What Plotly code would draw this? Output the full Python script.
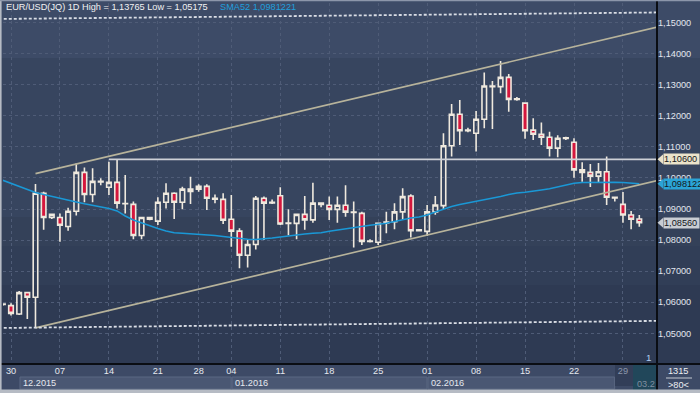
import plotly.graph_objects as go

# ---------------- data ----------------
dates = [
    "2015-11-29", "2015-11-30", "2015-12-01", "2015-12-02", "2015-12-03", "2015-12-04",
    "2015-12-06", "2015-12-07", "2015-12-08", "2015-12-09", "2015-12-10", "2015-12-11",
    "2015-12-13", "2015-12-14", "2015-12-15", "2015-12-16", "2015-12-17", "2015-12-18",
    "2015-12-20", "2015-12-21", "2015-12-22", "2015-12-23", "2015-12-24",
    "2015-12-27", "2015-12-28", "2015-12-29", "2015-12-30", "2015-12-31",
    "2016-01-04", "2016-01-05", "2016-01-06", "2016-01-07", "2016-01-08",
    "2016-01-10", "2016-01-11", "2016-01-12", "2016-01-13", "2016-01-14", "2016-01-15",
    "2016-01-17", "2016-01-18", "2016-01-19", "2016-01-20", "2016-01-21", "2016-01-22",
    "2016-01-24", "2016-01-25", "2016-01-26", "2016-01-27", "2016-01-28", "2016-01-29",
    "2016-01-31", "2016-02-01", "2016-02-02", "2016-02-03", "2016-02-04", "2016-02-05",
    "2016-02-07", "2016-02-08", "2016-02-09", "2016-02-10", "2016-02-11", "2016-02-12",
    "2016-02-14", "2016-02-15", "2016-02-16", "2016-02-17", "2016-02-18", "2016-02-19",
    "2016-02-21", "2016-02-22", "2016-02-23", "2016-02-24", "2016-02-25", "2016-02-26",
    "2016-02-28", "2016-02-29", "2016-03-01", "2016-03-02",
]
opens = [
    1.0593, 1.0589, 1.0562, 1.0631, 1.0616, 1.0951,
    1.0873, 1.0873, 1.0844, 1.0893, 1.1018, 1.0947,
    1.0987, 1.0970, 1.0986, 1.0918, 1.0915, 1.0815,
    1.0873, 1.0861, 1.0922, 1.0951, 1.0922,
    1.0964, 1.0964, 1.0973, 1.0935, 1.0931,
    1.0867, 1.0829, 1.0751, 1.0786, 1.0935,
    1.0922, 1.0943, 1.0855, 1.0854, 1.0883, 1.0865,
    1.0919, 1.0912, 1.0899, 1.0912, 1.0890, 1.0886,
    1.0797, 1.0793, 1.0855, 1.0859, 1.0891, 1.0942,
    1.0830, 1.0828, 1.0891, 1.0911, 1.1104, 1.1205,
    1.1152, 1.1144, 1.1189, 1.1296, 1.1294, 1.1324,
    1.1253, 1.1241, 1.1154, 1.1141, 1.1131, 1.1096,
    1.1127, 1.1115, 1.1026, 1.1018, 1.1006, 1.1020,
    1.0936, 1.0915, 1.0881, 1.0868,
]
highs = [
    1.0597, 1.0597, 1.0636, 1.0634, 1.0981, 1.0956,
    1.0885, 1.0886, 1.0904, 1.1047, 1.1034, 1.1031,
    1.0999, 1.1052, 1.1058, 1.1010, 1.0924, 1.0875,
    1.0874, 1.0938, 1.0983, 1.0954, 1.0972,
    1.1004, 1.0980, 1.0980, 1.0947, 1.0951,
    1.0945, 1.0838, 1.0800, 1.0942, 1.0940,
    1.0931, 1.0970, 1.0899, 1.0884, 1.0942, 1.0985,
    1.0919, 1.0940, 1.0940, 1.0977, 1.0924, 1.0891,
    1.0803, 1.0856, 1.0891, 1.0919, 1.0967, 1.0948,
    1.0835, 1.0913, 1.0942, 1.1144, 1.1238, 1.1251,
    1.1162, 1.1216, 1.1340, 1.1312, 1.13765, 1.1335,
    1.1261, 1.1242, 1.1192, 1.1179, 1.1149, 1.1138,
    1.1133, 1.1128, 1.1051, 1.1045, 1.1048, 1.1069,
    1.0940, 1.0955, 1.0894, 1.0881,
]
lows = [
    1.0589, 1.0557, 1.0559, 1.0546, 1.05175, 1.0833,
    1.0868, 1.0795, 1.0830, 1.0879, 1.0922, 1.0922,
    1.0977, 1.0945, 1.0902, 1.0886, 1.0803, 1.0803,
    1.0864, 1.0849, 1.0902, 1.0868, 1.0899,
    1.0916, 1.0956, 1.0897, 1.0919, 1.0852,
    1.0779, 1.0709, 1.0712, 1.0770, 1.0800,
    1.0916, 1.0849, 1.0816, 1.0803, 1.0833, 1.0856,
    1.0906, 1.0865, 1.0856, 1.0875, 1.0776, 1.0784,
    1.0792, 1.0784, 1.0822, 1.0835, 1.0865, 1.0808,
    1.0828, 1.0813, 1.0882, 1.0900, 1.1069, 1.1106,
    1.1147, 1.1085, 1.1160, 1.1158, 1.1273, 1.1213,
    1.1249, 1.1126, 1.1122, 1.1106, 1.1069, 1.1067,
    1.1122, 1.1001, 1.0988, 1.0971, 1.0987, 1.0913,
    1.0924, 1.0856, 1.0835, 1.0843,
]
closes = [
    1.0594, 1.0564, 1.0631, 1.0616, 1.0951, 1.0873,
    1.0883, 1.0848, 1.0893, 1.1018, 1.0947, 1.0989,
    1.0989, 1.0986, 1.0919, 1.0917, 1.0815, 1.0873,
    1.0867, 1.0922, 1.0951, 1.0922, 1.0964,
    1.0957, 1.0973, 1.0935, 1.0932, 1.0864,
    1.0829, 1.0751, 1.0786, 1.0935, 1.0919,
    1.0920, 1.0852, 1.0854, 1.0883, 1.0865, 1.0919,
    1.0915, 1.0899, 1.0912, 1.0890, 1.0889, 1.0796,
    1.0796, 1.0854, 1.0858, 1.0891, 1.0940, 1.0830,
    1.0833, 1.0891, 1.0913, 1.1104, 1.1205, 1.1152,
    1.1154, 1.1189, 1.1296, 1.1294, 1.1324, 1.1253,
    1.1255, 1.1152, 1.1141, 1.1131, 1.1096, 1.1128,
    1.1129, 1.1026, 1.1018, 1.1006, 1.1020, 1.0938,
    1.0938, 1.0881, 1.0867, 1.0856,
]
sma52 = [
    1.09926, 1.09823, 1.09726, 1.09630, 1.09533, 1.09469,
    1.09404, 1.09340, 1.09276, 1.09227, 1.09169, 1.09115,
    1.09066, 1.09018, 1.08938, 1.08777, 1.08648, 1.08551,
    1.08455, 1.08374, 1.08294, 1.08239, 1.08220,
    1.08207, 1.08197, 1.08175, 1.08149, 1.08117,
    1.08084, 1.08059, 1.08026, 1.08020, 1.08036,
    1.08068, 1.08100, 1.08139, 1.08165, 1.08197, 1.08220,
    1.08239, 1.08284, 1.08326, 1.08368, 1.08413, 1.08445,
    1.08477, 1.08509, 1.08542, 1.08600, 1.08664, 1.08712,
    1.08744, 1.08809, 1.08905, 1.09002, 1.09082, 1.09147,
    1.09195, 1.09243, 1.09308, 1.09356, 1.09404, 1.09469,
    1.09517, 1.09540, 1.09565, 1.09614, 1.09655, 1.09710,
    1.09775, 1.09829, 1.09855, 1.09862, 1.09862, 1.09862,
    1.09862, 1.09855, 1.09835, 1.0981221,
]

tick_dates = ["2015-11-30", "2015-12-07", "2015-12-14", "2015-12-21", "2015-12-28",
              "2016-01-04", "2016-01-11", "2016-01-18", "2016-01-25", "2016-02-01",
              "2016-02-08", "2016-02-15", "2016-02-22", "2016-02-29"]
tick_labels = ["30", "07", "14", "21", "28", "04", "11", "18", "25", "01", "08", "15", "22", "29"]
month_starts = ["2015-12-01", "2016-01-04", "2016-02-01"]
month_labels = ["12.2015", "01.2016", "02.2016"]

# trend lines (bar position, price)
upper_channel_x = [4, 80.4]
upper_channel_y = [1.1014, 1.1487]
lower_channel_x = [4, 80.4]
lower_channel_y = [1.05175, 1.0993]
top_dash_x = [-0.5, 80.4]
top_dash_y = [1.1512, 1.1533]
bot_dash_x = [-0.5, 80.4]
bot_dash_y = [1.0517, 1.0540]
level_start = "2015-12-14"
level_price = 1.1060

# ---------------- geometry helpers ----------------
W, H = 700, 393
ML, MR, MT, MB = 3, 43, 3, 29
PW, PH = W - ML - MR, H - MT - MB
YR = [1.04011, 1.15634]


def pxx(x):
    return (x - ML) / PW


def pxy(y):
    return 1 - (y - MT) / PH


def fmt(v, n):
    return f"{v:.{n}f}".replace(".", ",")


pos = list(range(len(dates)))
tickvals = [dates.index(d) for d in tick_dates]
ticktext = list(tick_labels)
ticktext[-1] = '<span style="color:#8d97ab">' + tick_labels[-1] + "</span>"

CREAM = "#efe9de"
RED = "#d5173d"
FONT = "Liberation Sans, Arial, sans-serif"
FS = 9.2

fig = go.Figure()

# SMA
fig.add_trace(go.Scatter(x=pos, y=sma52, mode="lines",
                         line=dict(color="#1a98d6", width=1.5), hoverinfo="skip"))
# channel lines
fig.add_trace(go.Scatter(x=upper_channel_x, y=upper_channel_y, mode="lines",
                         line=dict(color="#b7b39b", width=1.6), hoverinfo="skip"))
fig.add_trace(go.Scatter(x=lower_channel_x, y=lower_channel_y, mode="lines",
                         line=dict(color="#b7b39b", width=1.6), hoverinfo="skip"))
fig.add_trace(go.Scatter(x=top_dash_x, y=top_dash_y, mode="lines",
                         line=dict(color="#d9dde5", width=1.8, dash="3px,2px"), hoverinfo="skip"))
fig.add_trace(go.Scatter(x=bot_dash_x, y=bot_dash_y, mode="lines",
                         line=dict(color="#d9dde5", width=1.8, dash="3px,2px"), hoverinfo="skip"))
# horizontal level
fig.add_trace(go.Scatter(x=[dates.index(level_start), 80.4], y=[level_price, level_price],
                         mode="lines", line=dict(color="#cdd0d6", width=1.8), hoverinfo="skip"))

# candles
fig.add_trace(go.Candlestick(
    x=pos, open=opens, high=highs, low=lows, close=closes,
    increasing=dict(line=dict(color=CREAM, width=1.6), fillcolor="rgba(0,0,0,0)"),
    decreasing=dict(line=dict(color=CREAM, width=1.6), fillcolor=RED),
    whiskerwidth=0, hoverinfo="skip",
))

shapes = []
# background bands
bands = [(0, 58, "#3d4b67"), (58, 217, "#37455f"), (217, 246, "#344159"),
         (246, 285, "#313e57"), (285, 364, "#2e3a53")]
for y0, y1, c in bands:
    shapes.append(dict(type="rect", xref="paper", yref="paper", x0=pxx(0), x1=pxx(W),
                       y0=pxy(y1), y1=pxy(y0), fillcolor=c, line=dict(width=0), layer="below"))
# month boxes
mpos = [dates.index(d) for d in month_starts] + [75]
for i in range(len(month_starts)):
    shapes.append(dict(type="rect", xref="x", yref="paper", x0=mpos[i] + 0.1, x1=mpos[i + 1] - 0.02,
                       y0=pxy(389), y1=pxy(377), fillcolor="#4a5773",
                       line=dict(color="#5b6883", width=1), layer="below"))
# cursor boxes
shapes.append(dict(type="rect", xref="paper", yref="paper", x0=pxx(615), x1=pxx(633),
                   y0=pxy(386), y1=pxy(364), fillcolor="#323e58", line=dict(width=0), layer="below"))
shapes.append(dict(type="rect", xref="paper", yref="paper", x0=pxx(633), x1=pxx(657),
                   y0=pxy(390), y1=pxy(364), fillcolor="#21475a", line=dict(width=0), layer="below"))
# separators
shapes.append(dict(type="line", xref="paper", yref="paper", x0=pxx(657), x1=pxx(657),
                   y0=pxy(393), y1=pxy(0), line=dict(color="#0a0d13", width=2)))
shapes.append(dict(type="line", xref="paper", yref="paper", x0=pxx(0), x1=pxx(700),
                   y0=pxy(364), y1=pxy(364), line=dict(color="#0a0d13", width=2)))
shapes.append(dict(type="line", xref="paper", yref="paper", x0=pxx(666), x1=pxx(692),
                   y0=pxy(378), y1=pxy(378), line=dict(color="#c5cad3", width=1)))
# outer frame
shapes.append(dict(type="rect", xref="paper", yref="paper", x0=pxx(0), x1=pxx(1.6),
                   y0=pxy(393), y1=pxy(0), fillcolor="#b6bbc4", line=dict(width=0)))
shapes.append(dict(type="rect", xref="paper", yref="paper", x0=pxx(0), x1=pxx(700),
                   y0=pxy(393), y1=pxy(389.5), fillcolor="#b6bbc4", line=dict(width=0)))
shapes.append(dict(type="rect", xref="paper", yref="paper", x0=pxx(0), x1=pxx(700),
                   y0=pxy(1.2), y1=pxy(0), fillcolor="#8c96aa", line=dict(width=0)))

annotations = []
# right side price labels with pointers
labels = [(level_price, fmt(level_price, 5), "#ebe3ca", 35),
          (sma52[-1], fmt(sma52[-1], 6), "#2ba4d6", 40),
          (closes[-1], fmt(closes[-1], 5), "#c9cdd3", 35)]
half = 5 / (PH / (YR[1] - YR[0]))
for v, t, c, w in labels:
    annotations.append(dict(xref="paper", yref="y", x=pxx(663), y=v, xanchor="left", yanchor="middle",
                            text=t, showarrow=False, bgcolor=c, width=w, height=10, borderpad=0,
                            align="left", font=dict(family=FONT, size=FS, color="#14171c")))
    shapes.append(dict(type="path", xref="paper", yref="y",
                       path=f"M {pxx(657.5)},{v} L {pxx(663.2)},{v + half} L {pxx(663.2)},{v - half} Z",
                       fillcolor=c, line=dict(width=0)))

title_txt = f"EUR/USD(JQ) 1D High = {fmt(max(highs), 5)} Low = {fmt(min(lows), 5)}"
annotations.append(dict(xref="paper", yref="paper", x=pxx(4), y=pxy(7.5), xanchor="left",
                        yanchor="middle", text=title_txt, showarrow=False,
                        font=dict(family=FONT, size=FS, color="#f2f2f2")))
annotations.append(dict(xref="paper", yref="paper", x=pxx(218), y=pxy(7.5), xanchor="left",
                        yanchor="middle", text=f"SMA52 {fmt(sma52[-1], 7)}", showarrow=False,
                        font=dict(family=FONT, size=FS, color="#1f9fdc")))
for d, t in zip(month_starts, month_labels):
    annotations.append(dict(xref="x", yref="paper", x=dates.index(d), y=pxy(383), xanchor="left",
                            yanchor="middle", xshift=2, text=t, showarrow=False,
                            font=dict(family=FONT, size=FS, color="#e6e9ef")))
annotations.append(dict(xref="paper", yref="paper", x=pxx(635), y=pxy(384), xanchor="left",
                        yanchor="middle", text="03.2", showarrow=False,
                        font=dict(family=FONT, size=FS, color="#7f8ea0")))
annotations.append(dict(xref="paper", yref="paper", x=pxx(648), y=pxy(357), xanchor="center",
                        yanchor="middle", text="1", showarrow=False,
                        font=dict(family=FONT, size=FS + 0.6, color="#b3d0f2")))
annotations.append(dict(xref="paper", yref="paper", x=pxx(678.5), y=pxy(371), xanchor="center",
                        yanchor="middle", text="1315", showarrow=False,
                        font=dict(family=FONT, size=FS, color="#eef0f4")))
annotations.append(dict(xref="paper", yref="paper", x=pxx(678.5), y=pxy(385), xanchor="center",
                        yanchor="middle", text="&gt;80&lt;", showarrow=False,
                        font=dict(family=FONT, size=FS, color="#eef0f4")))

fig.update_layout(
    width=W, height=H,
    margin=dict(l=ML, r=MR, t=MT, b=MB, pad=0),
    paper_bgcolor="#3d4a66",
    plot_bgcolor="rgba(0,0,0,0)",
    showlegend=False,
    separators=",.",
    boxgap=0.2, boxgroupgap=0.3,
    hovermode=False,
    font=dict(family=FONT, size=FS, color="#e2e6ee"),
    shapes=shapes,
    annotations=annotations,
    xaxis=dict(
        range=[0.02, 80.17], tickvals=tickvals, ticktext=ticktext,
        showgrid=True, gridcolor="#4f5c77", griddash="3px,3px", gridwidth=1,
        zeroline=False, showline=False, ticks="",
        tickfont=dict(family=FONT, size=FS, color="#e6e9ef"),
        rangeslider=dict(visible=False), fixedrange=True,
    ),
    yaxis=dict(
        side="right", range=YR, tick0=1.0, dtick=0.01, tickformat=".5f",
        showgrid=True, gridcolor="#4f5c77", griddash="3px,3px", gridwidth=1,
        zeroline=False, showline=False, ticks="",
        tickfont=dict(family=FONT, size=FS, color="#e2e6ee"), fixedrange=True,
    ),
)

fig.write_html("out.html", config={"displayModeBar": False},
               post_script="document.body.style.margin='0px';document.body.style.overflow='hidden';")
